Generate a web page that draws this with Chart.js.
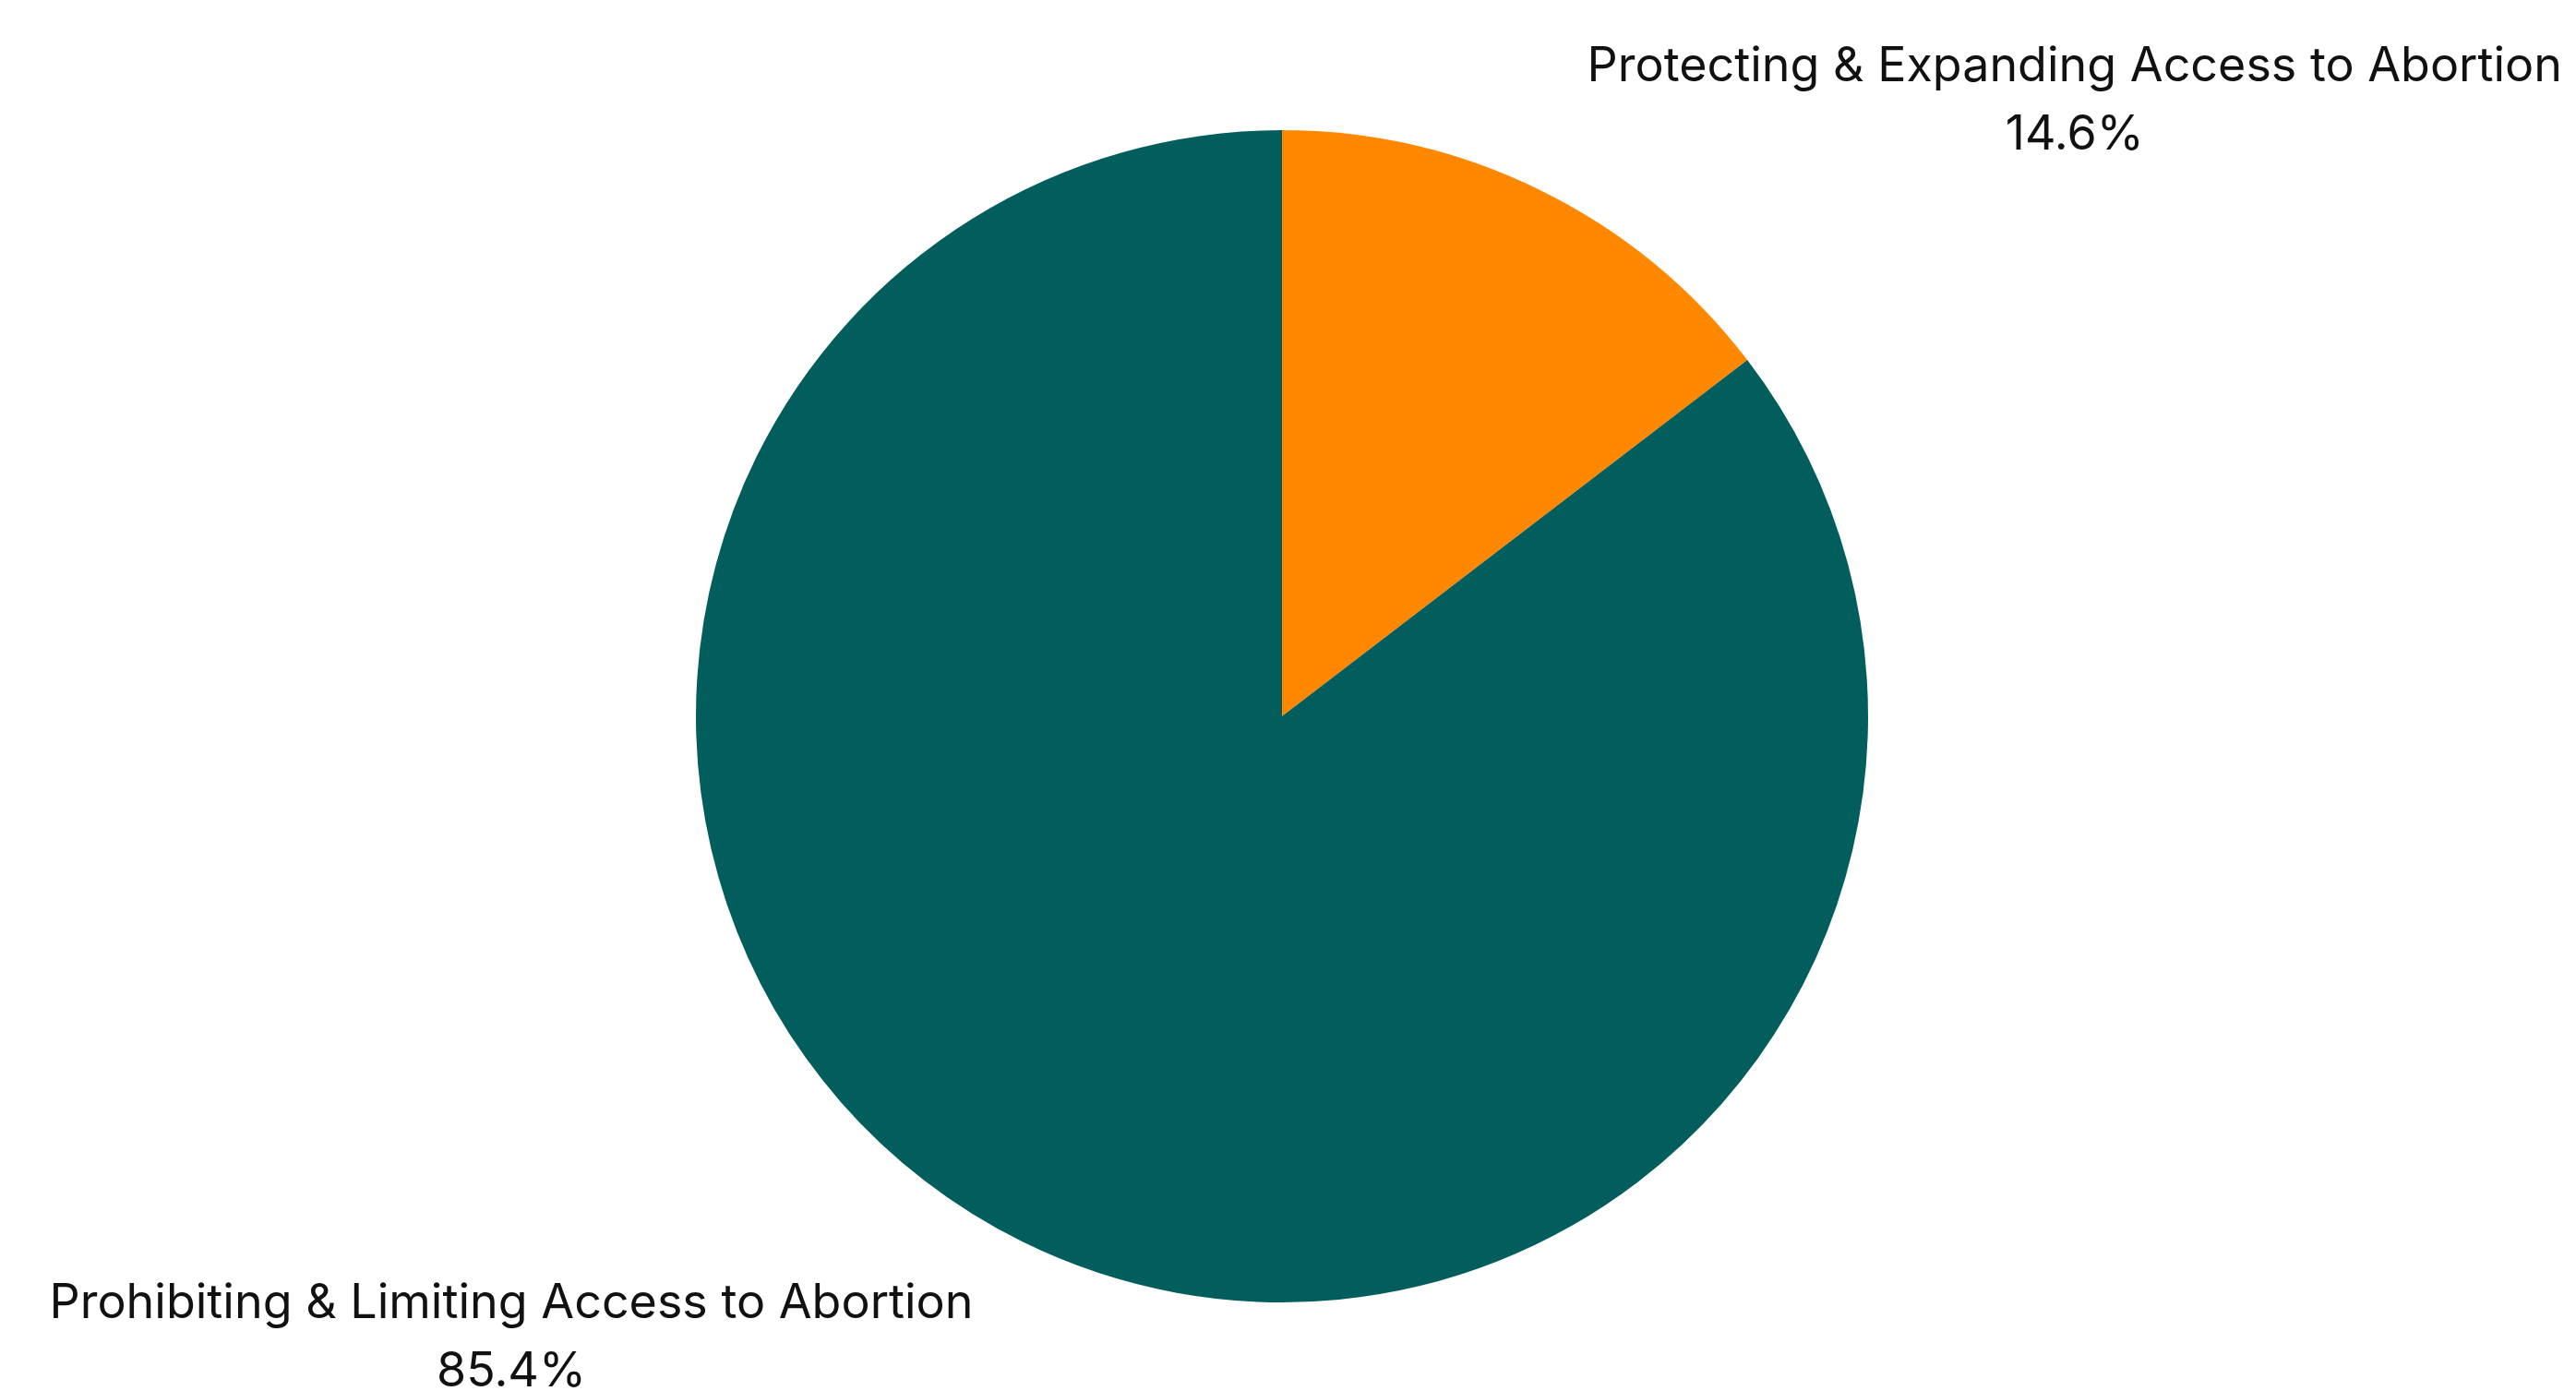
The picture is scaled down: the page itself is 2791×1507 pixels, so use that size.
<!DOCTYPE html>
<html>
<head>
<meta charset="utf-8">
<script src="https://cdn.jsdelivr.net/npm/chart.js@4"></script>
<style>
  html, body { margin: 0; padding: 0; background: #ffffff; }
  #wrap { width: 2791px; height: 1507px; }
</style>
</head>
<body>
<div id="wrap"><canvas id="pie"></canvas></div>
<script>
// Share of bills by intent
const categories = ['Protecting & Expanding Access to Abortion', 'Prohibiting & Limiting Access to Abortion'];
const shares = [14.6, 85.4];
const sliceColors = ['#FF8800', '#025E5C'];

const LABEL_FONT = '400 52px Inter, "DejaVu Sans", sans-serif';

// Draws each category name with its percentage outside the pie
const outsideLabels = {
  id: 'outsideLabels',
  afterDraw(chart) {
    const { ctx } = chart;
    const arcs = chart.getDatasetMeta(0).data;
    ctx.save();
    ctx.font = LABEL_FONT;
    ctx.fillStyle = '#111111';
    ctx.textAlign = 'center';
    ctx.textBaseline = 'middle';
    arcs.forEach((arc, i) => {
      const { x, y, outerRadius, startAngle, endAngle } = arc.getProps(['x', 'y', 'outerRadius', 'startAngle', 'endAngle'], true);
      const mid = (startAngle + endAngle) / 2;
      const right = Math.cos(mid) >= 0;
      const name = categories[i];
      const pct = shares[i].toFixed(1) + '%';
      let cx, cy;
      if (right) {
        const w = ctx.measureText(name).width;
        cx = chart.width - 15 - w / 2;
        cy = y - outerRadius - 69;
      } else {
        cx = x - outerRadius - 200;
        cy = y + outerRadius + 1;
      }
      ctx.fillText(name, cx, cy);
      ctx.fillText(pct, cx, cy + 74);
    });
    ctx.restore();
  }
};

new Chart(document.getElementById('pie'), {
  type: 'pie',
  data: {
    labels: categories,
    datasets: [{
      data: shares,
      backgroundColor: sliceColors,
      borderWidth: 0
    }]
  },
  options: {
    responsive: true,
    maintainAspectRatio: false,
    animation: false,
    layout: { padding: { top: 141, bottom: 96, left: 0, right: 13 } },
    plugins: {
      legend: { display: false },
      tooltip: { enabled: false }
    }
  },
  plugins: [outsideLabels]
});
</script>
</body>
</html>
